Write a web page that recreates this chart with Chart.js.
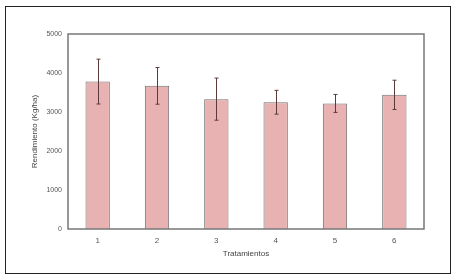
<!DOCTYPE html>
<html><head><meta charset="utf-8">
<script src="https://cdn.jsdelivr.net/npm/chart.js@4"></script>
<style>
html,body{margin:0;padding:0;background:#fff;}
#wrap{position:relative;width:454px;height:278px;}
#frame{position:absolute;left:5px;top:6px;width:444px;height:266px;border:1px solid #222;pointer-events:none;}
canvas{position:absolute;left:0;top:0;}
</style></head>
<body>
<div id="wrap"><canvas id="c" width="454" height="278"></canvas><div id="frame"></div></div>
<script>
const categories = ['1','2','3','4','5','6'];
const yieldMeans = [3780, 3670, 3330, 3250, 3220, 3440];
const yieldErrors = [575, 470, 540, 305, 230, 375];
const yTicks = [0, 1000, 2000, 3000, 4000, 5000];

const frameAndErrors = {
  id: 'frameAndErrors',
  afterDatasetsDraw(chart) {
    const ctx = chart.ctx, y = chart.scales.y;
    const meta = chart.getDatasetMeta(0);
    ctx.save();
    ctx.strokeStyle = '#5a3a3a';
    ctx.lineWidth = 1;
    meta.data.forEach((bar, i) => {
      const x = Math.round(bar.x) + 0.5;
      const top = y.getPixelForValue(yieldMeans[i] + yieldErrors[i]);
      const bot = y.getPixelForValue(yieldMeans[i] - yieldErrors[i]);
      ctx.beginPath();
      ctx.moveTo(x, top); ctx.lineTo(x, bot);
      ctx.moveTo(x - 2, top); ctx.lineTo(x + 2, top);
      ctx.moveTo(x - 2, bot); ctx.lineTo(x + 2, bot);
      ctx.stroke();
    });
    const a = chart.chartArea;
    ctx.strokeStyle = '#777';
    ctx.lineWidth = 1.5;
    ctx.strokeRect(a.left, a.top, a.right - a.left, a.bottom - a.top);
    ctx.restore();
  }
};

new Chart(document.getElementById('c'), {
  type: 'bar',
  data: {
    labels: categories,
    datasets: [{
      data: yieldMeans,
      backgroundColor: '#e8b2b2',
      borderColor: '#707070',
      borderWidth: 1,
      categoryPercentage: 1,
      barPercentage: 0.41
    }]
  },
  options: {
    responsive: false,
    animation: false,
    devicePixelRatio: 1,
    layout: { padding: { left: 26, right: 30, top: 34, bottom: 15 } },
    plugins: { legend: { display: false }, tooltip: { enabled: false } },
    scales: {
      x: {
        grid: { display: false, drawTicks: false },
        border: { display: false },
        ticks: { color: '#555', font: { family: 'Liberation Sans', size: 8 }, padding: 7 },
        title: { display: true, text: 'Tratamientos', color: '#444', font: { family: 'Liberation Sans', size: 8 }, padding: { top: 0 } },
        afterFit(s) { s.height = 34; }
      },
      y: {
        min: 0, max: 5000,
        afterBuildTicks(s) { s.ticks = yTicks.map(v => ({ value: v })); },
        grid: { display: false, drawTicks: false },
        border: { display: false },
        ticks: { color: '#555', font: { family: 'Liberation Sans', size: 7 }, padding: 6, callback: v => String(v) },
        title: { display: true, text: 'Rendimiento (Kg/ha)', color: '#444', font: { family: 'Liberation Sans', size: 8 } },
        afterFit(s) { s.width = 42; }
      }
    }
  },
  plugins: [frameAndErrors]
});
</script>
</body></html>
